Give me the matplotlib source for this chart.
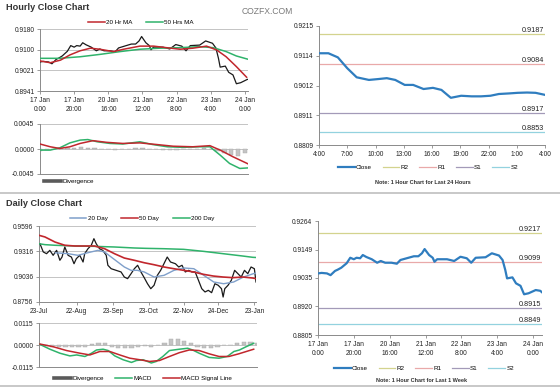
import numpy as np
import matplotlib
matplotlib.use("Agg")
import matplotlib.pyplot as plt
from matplotlib.lines import Line2D

plt.rcParams['font.family'] = ['Liberation Sans', 'DejaVu Sans']

# ---- hourly data (last week), x = trading hours since 17 Jan 0:00
hour_x = [0, 2, 5, 7, 9.5, 11, 13, 16, 18, 20, 21.5, 23.5, 25, 27, 30, 33, 35, 37.5, 41, 44,
          46, 49.5, 53.5, 56, 58, 59.5, 62, 64, 65, 66.5, 72, 76, 79.5, 83, 85.5, 88, 93.5, 97,
          101, 103, 104.5, 105.5, 108.5, 110.5, 113, 115, 117.5, 121.5, 124, 125]
hour_close = [0.9053, 0.9055, 0.9053, 0.9046, 0.9063, 0.9068, 0.9076, 0.9094, 0.9116, 0.9110,
              0.9116, 0.9114, 0.9127, 0.9119, 0.9110, 0.9096, 0.9103, 0.9096, 0.9096, 0.9092,
              0.9107, 0.9114, 0.9122, 0.9122, 0.9134, 0.9151, 0.9127, 0.9116, 0.9100, 0.9110,
              0.9110, 0.9103, 0.9120, 0.9114, 0.9096, 0.9116, 0.9118, 0.9134, 0.9125, 0.9107,
              0.9067, 0.9033, 0.9037, 0.9013, 0.9003, 0.8969, 0.8973, 0.8986, 0.8983, 0.8977]

ma20_x = [0, 6, 12, 17.5, 23.5, 29.5, 35, 43, 49, 58.5, 66.5, 74, 82, 89.5, 97.5, 103.5, 109, 115, 121]
ma20 = [0.9057, 0.9050, 0.9060, 0.9080, 0.9096, 0.9106, 0.9102, 0.9093, 0.9102, 0.9114,
        0.9114, 0.9108, 0.9102, 0.9106, 0.9114, 0.9099, 0.9073, 0.9035, 0.8994]
ma50_x = [0, 11.5, 23.5, 35, 47, 58.5, 70, 82, 93.5, 101.5, 109, 115, 122]
ma50 = [0.9067, 0.9067, 0.9073, 0.9082, 0.9093, 0.9102, 0.9106, 0.9108, 0.9112, 0.9108,
        0.9093, 0.9076, 0.9063]

hmacd_x = [0, 6, 11.5, 17.5, 23.5, 28, 33.5, 41, 48.5, 58.5, 66, 74.5, 83.5, 93.5, 99.5, 105.5, 111, 117, 122]
hmacd_green = [-0.0002, -0.0002, 0.0002, 0.0011, 0.0016, 0.0017, 0.0013, 0.0010, 0.0009, 0.0013,
               0.0008, 0.0004, 0.0003, 0.0004, 0.0004, -0.0011, -0.0026, -0.0035, -0.0034]
hsig_x = [0, 6, 11.5, 17.5, 23.5, 31, 39, 48.5, 58.5, 68.5, 78, 89.5, 99.5, 105.5, 113, 122]
hmacd_red = [0.0009, 0.0004, 0.0001, 0.0004, 0.0010, 0.0015, 0.0012, 0.0010, 0.0011, 0.0008,
             0.0005, 0.0004, 0.0006, -0.0002, -0.0014, -0.0027]
hdiv_x = list(range(0, 121, 4))
hdiv = [-0.0003, -0.0002, 0.0, 0.0001, 0.0002, 0.0002, 0.0003, 0.0002, 0.0001, 0.0, 0.0,
        -0.0001, 0.0, 0.0, 0.0001, 0.0001, 0.0, 0.0, -0.0001, -0.0002, -0.0001, 0.0, 0.0, 0.0,
        0.0001, 0.0, -0.0004, -0.0007, -0.0010, -0.0013, -0.0008]

# ---- last 24 hours
day_hours = [0, 1, 2, 3, 4, 5.3, 6.3, 7.2, 8.1, 9.1, 10, 11.1, 12.1, 13, 14, 15.1, 16.2, 17.2,
             18.2, 19.1, 20.2, 21.1, 22.1, 23, 24]
day_close = [0.9122, 0.9122, 0.9108, 0.9071, 0.9040, 0.9031, 0.9034, 0.9037, 0.9031, 0.9014,
             0.9014, 0.9000, 0.9004, 0.8997, 0.8970, 0.8977, 0.8975, 0.8975, 0.8977, 0.8983,
             0.8985, 0.8987, 0.8988, 0.8987, 0.8980]
h24_ticks = ['4:00', '7:00', '10:00', '13:00', '16:00', '19:00', '22:00', '1:00', '4:00']
levels_24 = {'R2': 0.9187, 'R1': 0.9084, 'S1': 0.8917, 'S2': 0.8853}
levels_wk = {'R2': 0.9217, 'R1': 0.9099, 'S1': 0.8915, 'S2': 0.8849}
week_ticks = ['17 Jan\n0:00', '17 Jan\n20:00', '20 Jan\n16:00', '21 Jan\n12:00',
              '22 Jan\n8:00', '23 Jan\n4:00', '24 Jan\n0:00']

# ---- daily data, x = trading days since 23-Jul
dx = [0.6, 2.6, 4.6, 6.6, 8.6, 10.7, 12.7, 14, 15.7, 17.7, 19.7, 21.3, 22.7, 24.8, 26.8, 27.8,
      29.8, 31.8, 33.4, 34.8, 36.8, 38.8, 40.9, 41.9, 43.9, 46.9, 49.9, 51.9, 53.9, 56, 58, 60,
      62, 64, 66, 68, 70, 72, 74, 76, 78, 80, 83, 85, 87, 89, 91, 93, 95, 97, 99, 101, 103, 105,
      107, 109, 111, 112, 113, 115, 117, 119, 121, 123, 125, 127, 129, 131, 132]
daily_close = [0.9400, 0.9309, 0.9290, 0.9327, 0.9272, 0.9327, 0.9217, 0.9253, 0.9364, 0.9272,
               0.9253, 0.9179, 0.9235, 0.9272, 0.9198, 0.9290, 0.9345, 0.9383, 0.9456, 0.9400,
               0.9345, 0.9327, 0.9272, 0.9162, 0.9124, 0.9106, 0.9088, 0.9032, 0.9014, 0.9069,
               0.9124, 0.9162, 0.9088, 0.9025, 0.8958, 0.8903, 0.8941, 0.9051, 0.9106, 0.9179,
               0.9253, 0.9198, 0.9179, 0.9143, 0.9162, 0.9088, 0.9106, 0.9088, 0.9088, 0.8996,
               0.8903, 0.8867, 0.8885, 0.8859, 0.8958, 0.8941, 0.8903, 0.8811, 0.8903, 0.8941,
               0.8996, 0.9106, 0.9069, 0.9032, 0.9106, 0.9069, 0.9143, 0.9124, 0.8977]
d20_x = [10, 17.7, 23.7, 29.8, 35.8, 39.9, 43.9, 47.9, 51.9, 56, 59.8, 64, 70, 76.1, 82.1, 88.2,
         94.2, 100.2, 106.3, 112.3, 118.4, 124.4, 130.4, 132]
d20 = [0.9300, 0.9290, 0.9272, 0.9301, 0.9327, 0.9309, 0.9253, 0.9198, 0.9143, 0.9106, 0.9106,
       0.9088, 0.9032, 0.9051, 0.9106, 0.9132, 0.9124, 0.9051, 0.8977, 0.8958, 0.8977, 0.9032,
       0.9069, 0.9076]
d50_x = [0, 3.6, 9.7, 15.7, 21.7, 27.8, 33.8, 39.9, 45.9, 51.9, 58, 64, 70, 76, 82, 88, 94, 100,
         106, 112, 118, 124, 130, 132]
d50 = [0.9493, 0.9475, 0.9419, 0.9383, 0.9375, 0.9375, 0.9375, 0.9345, 0.9290, 0.9242, 0.9217,
       0.9190, 0.9168, 0.9143, 0.9124, 0.9106, 0.9088, 0.9062, 0.9043, 0.9032, 0.9025, 0.9032,
       0.9021, 0.9014]
d200_x = [0, 3.6, 9.7, 21.7, 33.8, 45.9, 58, 65, 76, 88, 100, 112, 124, 130, 132]
d200 = [0.9400, 0.9390, 0.9383, 0.9375, 0.9371, 0.9364, 0.9353, 0.9349, 0.9345, 0.9338, 0.9316,
        0.9290, 0.9264, 0.9250, 0.9248]
daily_ticks = ['23-Jul', '22-Aug', '23-Sep', '23-Oct', '22-Nov', '24-Dec', '23-Jan']
daily_tick_pos = [0, 23, 45, 67, 88, 109, 131]

dmacd_x = [0.6, 6.6, 12.7, 18.7, 22.8, 27.8, 31.8, 34.8, 38.8, 41.9, 45.9, 50.9, 56, 59, 63, 68,
           71, 75, 79, 85, 90, 93, 97, 103, 109, 114, 118, 121.4, 125.4, 130]
dmacd = [0.0003, -0.0022, -0.0043, -0.0057, -0.0052, -0.0060, -0.0043, -0.0026, -0.0022,
         -0.0029, -0.0057, -0.0077, -0.0091, -0.0081, -0.0077, -0.0094, -0.0086, -0.0060,
         -0.0029, -0.0022, -0.0017, -0.0026, -0.0043, -0.0065, -0.0069, -0.0060, -0.0034,
         -0.0026, -0.0009, 0.0009]
dsig_x = [0.6, 8.6, 16.7, 24.8, 30.8, 36.8, 42.9, 48.9, 55, 61, 67, 73, 79, 85, 91, 97, 103,
          109, 115, 121, 130]
dsignal = [0.0005, -0.0009, -0.0029, -0.0043, -0.0052, -0.0034, -0.0034, -0.0052, -0.0069,
           -0.0077, -0.0086, -0.0081, -0.0060, -0.0040, -0.0026, -0.0029, -0.0046, -0.0060,
           -0.0060, -0.0046, -0.0022]
ddiv_x = list(range(0, 133, 4))
ddiv = [0.0, -0.0005, -0.0008, -0.0010, -0.0012, -0.0012, -0.0010, -0.0008, 0.0005, 0.0012,
        0.0010, -0.0008, -0.0015, -0.0018, -0.0017, -0.0008, -0.0004, -0.0008, 0.0, 0.0012,
        0.0030, 0.0030, 0.0020, 0.0008, -0.0010, -0.0015, -0.0015, -0.0008, -0.0002, 0.0,
        0.0012, 0.0015, 0.0015, 0.0012]

RED = '#c1272d'
GREEN = '#2fb36b'
BLACK = '#1a1a1a'
BLUE = '#2f7dbf'
LBLUE = '#7f9fca'
LEVEL_COLORS = {'R2': '#d3d38e', 'R1': '#e9a9a9', 'S1': '#a39ab8', 'S2': '#93d2df'}
GRID = '#c4c4c4'
AXC = '#8a8a8a'
DIVC = '#c4c4c4'
FS = 4.8

W, H = 560, 388
fig = plt.figure(figsize=(W / 100, H / 100), dpi=100)


def add_axes(left, top, right, bottom):
    return fig.add_axes([left / W, 1 - bottom / H, (right - left) / W, (bottom - top) / H])


def style(ax, yticks, grid=True):
    ax.set_yticks(yticks)
    ax.set_yticklabels(['%.4f' % t for t in yticks])
    ax.set_ylim(yticks[0], yticks[-1])
    for s in ['top', 'right']:
        ax.spines[s].set_visible(False)
    for s in ['left', 'bottom']:
        ax.spines[s].set_color(AXC)
        ax.spines[s].set_linewidth(0.7)
    ax.tick_params(labelsize=FS, length=2, width=0.6, pad=2, colors=AXC, labelcolor='#222222')
    if grid:
        for t in yticks[1:]:
            ax.axhline(t, color=GRID, lw=0.7, zorder=0)


def legend(handles, labels, cx, cy, ncol, spacing=2.2):
    fig.legend(handles, labels, loc='center', bbox_to_anchor=(cx / W, 1 - cy / H), ncol=ncol,
               frameon=False, fontsize=4.5, handlelength=2.7, handletextpad=0.2,
               columnspacing=spacing, borderpad=0, borderaxespad=0)


def level_chart(ax, x, y, levels, xlim):
    # support / resistance lines with their value written above, at the right end
    for name, val in levels.items():
        ax.axhline(val, color=LEVEL_COLORS[name], lw=0.9, zorder=1)
        ax.text(xlim[1] - 0.005 * (xlim[1] - xlim[0]), val, '%.4f' % val, ha='right', va='bottom',
                fontsize=5.2, color='#222222')
    ax.plot(x, y, color=BLUE, lw=1.6, zorder=3)
    ax.set_xlim(*xlim)


# ---- titles and separators
fig.text(6 / W, 1 - 8 / H, 'Hourly Close Chart', fontsize=6.6, fontweight='bold', va='center', color='#333333')
fig.text(6 / W, 1 - 203 / H, 'Daily Close Chart', fontsize=6.6, fontweight='bold', va='center', color='#333333')
fig.text(242 / W, 1 - 12 / H, 'COZFX.COM', fontsize=6.2, va='center', color='#7a7a7a')
for yy in [193, 386]:
    fig.add_artist(Line2D([0, 1], [1 - yy / H, 1 - yy / H], color='#c8c8c8', lw=1.4))

# ---- top-left hourly chart
ax1 = add_axes(40, 29, 248, 91)
style(ax1, [0.8941, 0.9021, 0.9100, 0.9180])
ax1.plot(hour_x, hour_close, color=BLACK, lw=0.9, zorder=3)
ax1.plot(ma50_x, ma50, color=GREEN, lw=1.1, zorder=4)
ax1.plot(ma20_x, ma20, color=RED, lw=1.1, zorder=5)
ax1.set_xlim(0, 121.8)
ax1.set_xticks(range(0, 121, 20))
ax1.set_xticklabels(week_ticks, linespacing=1.5)
legend([Line2D([], [], color=RED, lw=1.1), Line2D([], [], color=GREEN, lw=1.1)],
       ['20 Hr MA', '50 Hrs MA'], 141, 22, 2)

# ---- hourly MACD
ax2 = add_axes(40, 124, 248, 174)
style(ax2, [-0.0045, 0.0, 0.0045])
ax2.bar(hdiv_x, hdiv, width=2.6, color=DIVC, edgecolor='#a8a8a8', lw=0.3, zorder=2)
ax2.plot(hmacd_x, hmacd_green, color=GREEN, lw=1.1, zorder=3)
ax2.plot(hsig_x, hmacd_red, color=RED, lw=1.1, zorder=4)
ax2.set_xlim(0, 121.8)
ax2.set_xticks([])
legend([Line2D([], [], color='#5a5a5a', lw=2.6)], ['Divergence'], 69, 181, 1)

# ---- top-right 24h chart
ax3 = add_axes(319, 26, 545, 145)
style(ax3, [0.8809, 0.8911, 0.9012, 0.9114, 0.9215], grid=False)
level_chart(ax3, day_hours, day_close, levels_24, (0, 24))
ax3.set_xticks(range(0, 25, 3))
ax3.set_xticklabels(h24_ticks)
lv_handles = [Line2D([], [], color=BLUE, lw=1.6)] + [Line2D([], [], color=LEVEL_COLORS[k], lw=0.9) for k in ['R2', 'R1', 'S1', 'S2']]
lv_labels = ['Close', 'R2', 'R1', 'S1', 'S2']
legend(lv_handles, lv_labels, 428, 167, 5, spacing=1.7)
fig.text(423 / W, 1 - 182 / H, 'Note: 1 Hour Chart for Last 24 Hours', fontsize=4, fontweight='bold',
         ha='center', va='center', color='#333333')

# ---- bottom-left daily chart
ax4 = add_axes(39, 226, 256, 302)
style(ax4, [0.8756, 0.9036, 0.9316, 0.9596])
ax4.plot(dx, daily_close, color=BLACK, lw=0.9, zorder=3)
ax4.plot(d200_x, d200, color=GREEN, lw=1.1, zorder=4)
ax4.plot(d20_x, d20, color=LBLUE, lw=1.0, zorder=5)
ax4.plot(d50_x, d50, color=RED, lw=1.2, zorder=6)
ax4.set_xlim(0, 132)
ax4.set_xticks(daily_tick_pos)
ax4.set_xticklabels(daily_ticks)
legend([Line2D([], [], color=LBLUE, lw=1.1), Line2D([], [], color=RED, lw=1.1),
        Line2D([], [], color=GREEN, lw=1.1)], ['20 Day', '50 Day', '200 Day'], 142, 218, 3)

# ---- daily MACD
ax5 = add_axes(39, 323, 257, 367)
style(ax5, [-0.0115, 0.0, 0.0115])
ax5.bar(ddiv_x, ddiv, width=2.6, color=DIVC, edgecolor='#a8a8a8', lw=0.3, zorder=2)
ax5.plot(dmacd_x, dmacd, color=GREEN, lw=1.1, zorder=3)
ax5.plot(dsig_x, dsignal, color=RED, lw=1.1, zorder=4)
ax5.set_xlim(0, 132)
ax5.set_xticks([])
legend([Line2D([], [], color='#5a5a5a', lw=2.6), Line2D([], [], color=GREEN, lw=1.1),
        Line2D([], [], color=RED, lw=1.1)], ['Divergence', 'MACD', 'MACD Signal Line'], 143, 378, 3, spacing=1.8)

# ---- bottom-right weekly chart
ax6 = add_axes(318, 221, 542, 335)
style(ax6, [0.8805, 0.8920, 0.9035, 0.9149, 0.9264], grid=False)
level_chart(ax6, hour_x, hour_close, levels_wk, (0, 125))
ax6.set_xticks(range(0, 121, 20))
ax6.set_xticklabels(week_ticks, linespacing=1.5)
legend(lv_handles, lv_labels, 424, 368, 5, spacing=1.7)
fig.text(422 / W, 1 - 380 / H, 'Note: 1 Hour Chart for Last 1 Week', fontsize=4, fontweight='bold',
         ha='center', va='center', color='#333333')

fig.savefig('out.png', dpi=100)
